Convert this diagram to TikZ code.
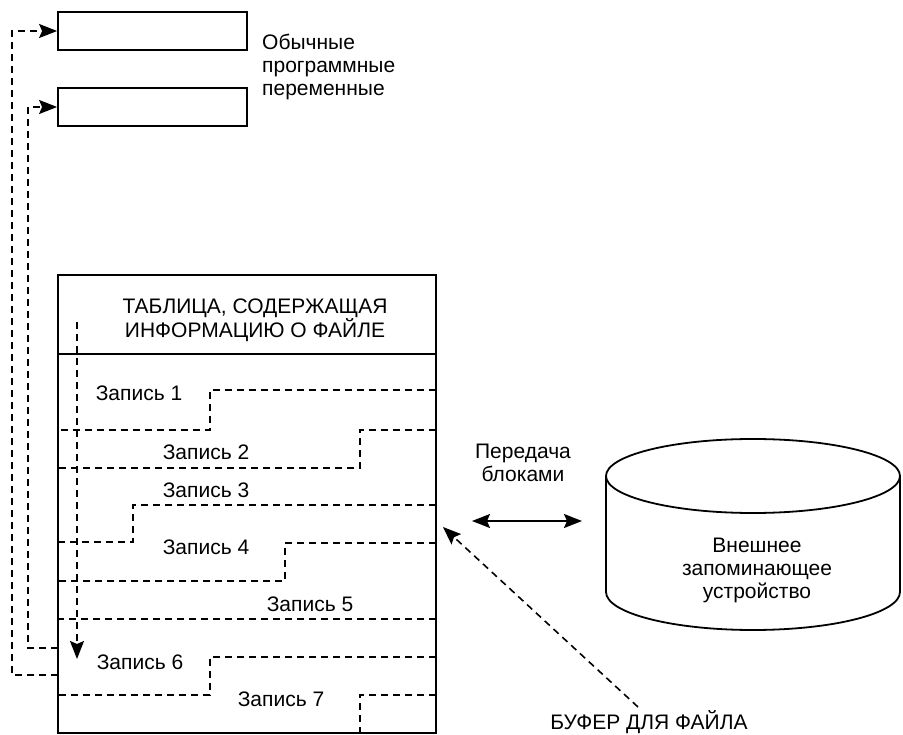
\documentclass[tikz,border=0pt]{standalone}
\usepackage{fontspec}
\setmainfont{Liberation Sans}
\usetikzlibrary{arrows.meta}
\begin{document}
\begin{tikzpicture}[x=1pt,y=-1pt,
  solidline/.style={line width=1.8pt},
  dashline/.style={line width=1.6pt, dash pattern=on 7pt off 5pt},
  tip/.style={-{Stealth[length=18pt,width=14pt,inset=3pt]}},
  box/.style={draw, solidline, rectangle, inner sep=0pt},
  lbl/.style={font=\fontsize{21}{23}\selectfont, inner sep=0pt},
]
\useasboundingbox (0,0) rectangle (903,735);

% ordinary program variables
\node[box, minimum width=189pt, minimum height=38pt] (v1) at (152.5,31) {};
\node[box, minimum width=189pt, minimum height=38pt] (v2) at (152.5,107) {};
\node[lbl, anchor=west, align=left] (vars) at (262,67) {Обычные\\программные\\переменные};

% file buffer table
\node[box, minimum width=378pt, minimum height=458pt] (tab) at (247,504) {};
\coordinate (hl) at (58,354);
\coordinate (hr) at (436,354);
\draw[solidline] (hl) -- (hr);
\node[lbl, align=center, font=\fontsize{21}{21.5}\selectfont] (head) at (255,320)
  {ТАБЛИЦА, СОДЕРЖАЩАЯ\\ИНФОРМАЦИЮ О ФАЙЛЕ};

% record boundaries (staircase)
\draw[dashline] (436,390) -- (210,390) -- (210,430) -- (58,430);
\draw[dashline] (436,430) -- (360,430) -- (360,468) -- (58,468);
\draw[dashline] (436,505) -- (133,505) -- (133,542) -- (58,542);
\draw[dashline] (436,543) -- (285,543) -- (285,581) -- (58,581);
\draw[dashline] (436,619) -- (58,619);
\draw[dashline] (436,657) -- (210,657) -- (210,695) -- (58,695);
\draw[dashline] (436,695) -- (360,695) -- (360,733);

\node[lbl] (r1) at (139,393) {Запись 1};
\node[lbl] (r2) at (206,452) {Запись 2};
\node[lbl] (r3) at (206,490) {Запись 3};
\node[lbl] (r4) at (206,547) {Запись 4};
\node[lbl] (r5) at (310,604) {Запись 5};
\node[lbl] (r6) at (140,662) {Запись 6};
\node[lbl] (r7) at (281,699) {Запись 7};

% sequential access pointer
\coordinate (ps) at (77,322);
\coordinate (pe) at (77,659);
\draw[dashline, tip] (ps) -- (pe);

% transfers to program variables
\coordinate (o1) at (58,675);
\coordinate (o2) at (58,648);
\draw[dashline, tip] (o1) -- (12,675) -- (12,31) -- (v1.west);
\draw[dashline, tip] (o2) -- (28,648) -- (28,107) -- (v2.west);

% external storage
\draw[solidline] (753,476) ellipse [x radius=147pt, y radius=37pt];
\draw[solidline] (606,476) -- (606,592)
  arc[start angle=180, end angle=360, x radius=147pt, y radius=38pt] -- (900,476);
\node[lbl, align=center] (ext) at (757,570) {Внешнее\\запоминающее\\устройство};

% block transfer
\coordinate (ba) at (472,521);
\coordinate (bb) at (582,521);
\draw[solidline, {Stealth[length=18pt,width=14pt,inset=3pt]}-{Stealth[length=18pt,width=14pt,inset=3pt]}] (ba) -- (bb);
\node[lbl, align=center] (blk) at (523,463) {Передача\\блоками};

% buffer label
\node[lbl] (buf) at (649,722) {БУФЕР ДЛЯ ФАЙЛА};
\coordinate (bs) at (638,707);
\coordinate (be) at (443,527);
\draw[dashline, tip] (bs) -- (be);
\end{tikzpicture}
\end{document}
